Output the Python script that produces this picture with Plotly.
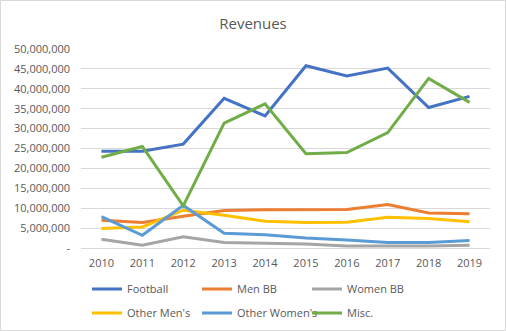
import plotly.graph_objects as go

years = ["2010", "2011", "2012", "2013", "2014", "2015", "2016", "2017", "2018", "2019"]

football = [24.3, 24.3, 26.1, 37.6, 33.2, 45.8, 43.2, 45.2, 35.3, 38.1]
men_bb = [7.0, 6.4, 8.0, 9.4, 9.6, 9.7, 9.7, 10.9, 8.8, 8.6]
women_bb = [2.2, 0.7, 2.8, 1.4, 1.2, 1.0, 0.5, 0.5, 0.5, 0.7]
other_mens = [4.9, 5.3, 9.5, 8.2, 6.7, 6.4, 6.5, 7.7, 7.4, 6.6]
other_womens = [7.9, 3.2, 10.7, 3.7, 3.3, 2.5, 2.0, 1.4, 1.4, 1.9]
misc = [22.8, 25.5, 10.6, 31.4, 36.2, 23.7, 24.0, 29.0, 42.6, 36.6]

series = [
    ("Football", football, "#4472C4", "legend"),
    ("Men BB", men_bb, "#ED7D31", "legend"),
    ("Women BB", women_bb, "#A5A5A5", "legend"),
    ("Other Men's", other_mens, "#FFC000", "legend2"),
    ("Other Women's", other_womens, "#5B9BD5", "legend2"),
    ("Misc.", misc, "#70AD47", "legend2"),
]

tick_vals = [0, 5e6, 10e6, 15e6, 20e6, 25e6, 30e6, 35e6, 40e6, 45e6, 50e6]
tick_text = ["-"] + [f"{int(v):,}" for v in tick_vals[1:]]

W, H = 506, 331
ML, MR, MT, MB = 81, 16, 49, 83

fig = go.Figure()
for name, vals, color, leg in series:
    fig.add_trace(go.Scatter(
        x=years, y=[v * 1e6 for v in vals], name=name, mode="lines",
        line=dict(color=color, width=3), legend=leg,
    ))

font = "Open Sans, Noto Sans, sans-serif"
pw = W - ML - MR
ph = H - MT - MB


def legend_row(center_y):
    return dict(orientation="h", xref="container", yref="container",
                x=(92 - 5) / W, xanchor="left",
                y=1 - center_y / H, yanchor="middle",
                entrywidth=65, entrywidthmode="pixels",
                font=dict(size=11, color="#595959"), bgcolor="rgba(0,0,0,0)")


fig.update_layout(
    width=W, height=H,
    margin=dict(l=ML, r=MR, t=MT, b=MB, pad=0, autoexpand=False),
    paper_bgcolor="white", plot_bgcolor="white",
    font=dict(family=font, color="#595959", size=11),
    title=dict(text="Revenues", x=0.5, xanchor="center", y=1 - 24 / H, yanchor="middle",
               font=dict(size=15, color="#595959", family=font)),
    xaxis=dict(type="category", range=[-0.5, 9.5], showgrid=False, showline=True,
               linecolor="#D9D9D9", linewidth=1, ticks="", ticklabelstandoff=5,
               tickfont=dict(size=11), fixedrange=True),
    yaxis=dict(range=[0, 50e6], tickvals=tick_vals, ticktext=tick_text,
               showgrid=True, gridcolor="#D9D9D9", gridwidth=1, zeroline=False,
               ticks="", ticklabelstandoff=10, tickfont=dict(size=11)),
    showlegend=True,
    legend=legend_row(289),
    legend2=legend_row(313),
    shapes=[dict(type="rect", xref="paper", yref="paper",
                 x0=(0.5 - ML) / pw, x1=(W - 0.5 - ML) / pw,
                 y0=-(H - 0.5 - MT - ph) / ph, y1=1 + (MT - 0.5) / ph,
                 line=dict(color="#D9D9D9", width=1), layer="below")],
)

fig.write_html("out.html")
